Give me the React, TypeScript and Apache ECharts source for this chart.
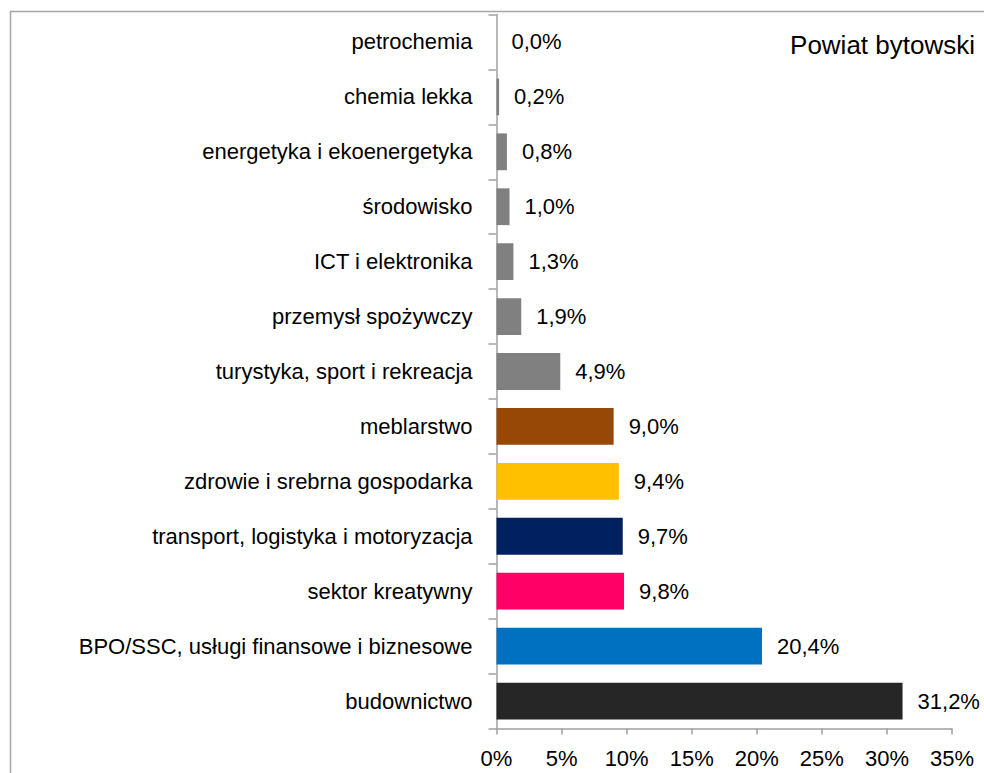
import React, { useEffect, useRef } from "react";
import * as echarts from "echarts";

const categories = [
  "petrochemia",
  "chemia lekka",
  "energetyka i ekoenergetyka",
  "środowisko",
  "ICT i elektronika",
  "przemysł spożywczy",
  "turystyka, sport i rekreacja",
  "meblarstwo",
  "zdrowie i srebrna gospodarka",
  "transport, logistyka i motoryzacja",
  "sektor kreatywny",
  "BPO/SSC, usługi finansowe i biznesowe",
  "budownictwo",
];
const values = [0.0, 0.2, 0.8, 1.0, 1.3, 1.9, 4.9, 9.0, 9.4, 9.7, 9.8, 20.4, 31.2];
const barColors = [
  "#808080", "#808080", "#808080", "#808080", "#808080", "#808080", "#808080",
  "#974706", "#FFC000", "#002060", "#FF0066", "#0070C0", "#262626",
];
const xTicks = [0, 5, 10, 15, 20, 25, 30, 35];
const title = "Powiat bytowski";

const FONT = "'Liberation Sans', Arial, sans-serif";

export default function App() {
  const ref = useRef<HTMLDivElement>(null);
  useEffect(() => {
    if (!ref.current) return;
    const chart = echarts.init(ref.current, null, { renderer: "svg" });
    chart.setOption({
      animation: false,
      backgroundColor: "#ffffff",
      textStyle: { fontFamily: FONT },
      graphic: [
        {
          type: "rect",
          shape: { x: 10.5, y: 11.5, width: 1100, height: 900 },
          style: { fill: "none", stroke: "#a6a6a6", lineWidth: 1.5 },
          z: -1,
        },
        {
          type: "text",
          right: 9,
          top: 32,
          style: { text: title, fontSize: 26, fill: "#000", fontFamily: FONT },
        },
      ],
      grid: {
        left: 496.5,
        right: 32,
        top: 14.5,
        height: 714,
        containLabel: false,
        outerBoundsMode: "none",
      },
      xAxis: {
        type: "value",
        min: xTicks[0],
        max: xTicks[xTicks.length - 1],
        interval: 5,
        axisLine: { show: true, lineStyle: { color: "#a0a0a0", width: 1.5 } },
        axisTick: { show: true, length: 6, lineStyle: { color: "#a0a0a0", width: 1.5 } },
        splitLine: { show: false },
        axisLabel: {
          formatter: (v: number) => `${v}%`,
          fontSize: 22,
          color: "#000",
          margin: 19,
          fontFamily: FONT,
        },
      },
      yAxis: {
        type: "category",
        data: categories,
        inverse: true,
        axisLine: { show: true, lineStyle: { color: "#a0a0a0", width: 1.5 } },
        axisTick: { show: true, length: 8, lineStyle: { color: "#a0a0a0", width: 1.5 } },
        axisLabel: { fontSize: 22, color: "#000", margin: 24, fontFamily: FONT },
      },
      series: [
        {
          type: "bar",
          data: values.map((v, i) => ({ value: v, itemStyle: { color: barColors[i] } })),
          barCategoryGap: "33%",
          label: {
            show: true,
            position: "right",
            distance: 15,
            fontSize: 22,
            color: "#000",
            fontFamily: FONT,
            formatter: (p: any) => `${p.value.toFixed(1).replace(".", ",")}%`,
          },
        },
      ],
    });
    return () => chart.dispose();
  }, []);
  return (
    <div
      ref={ref}
      style={{ position: "fixed", left: 0, top: 0, width: 984, height: 773 }}
    />
  );
}
